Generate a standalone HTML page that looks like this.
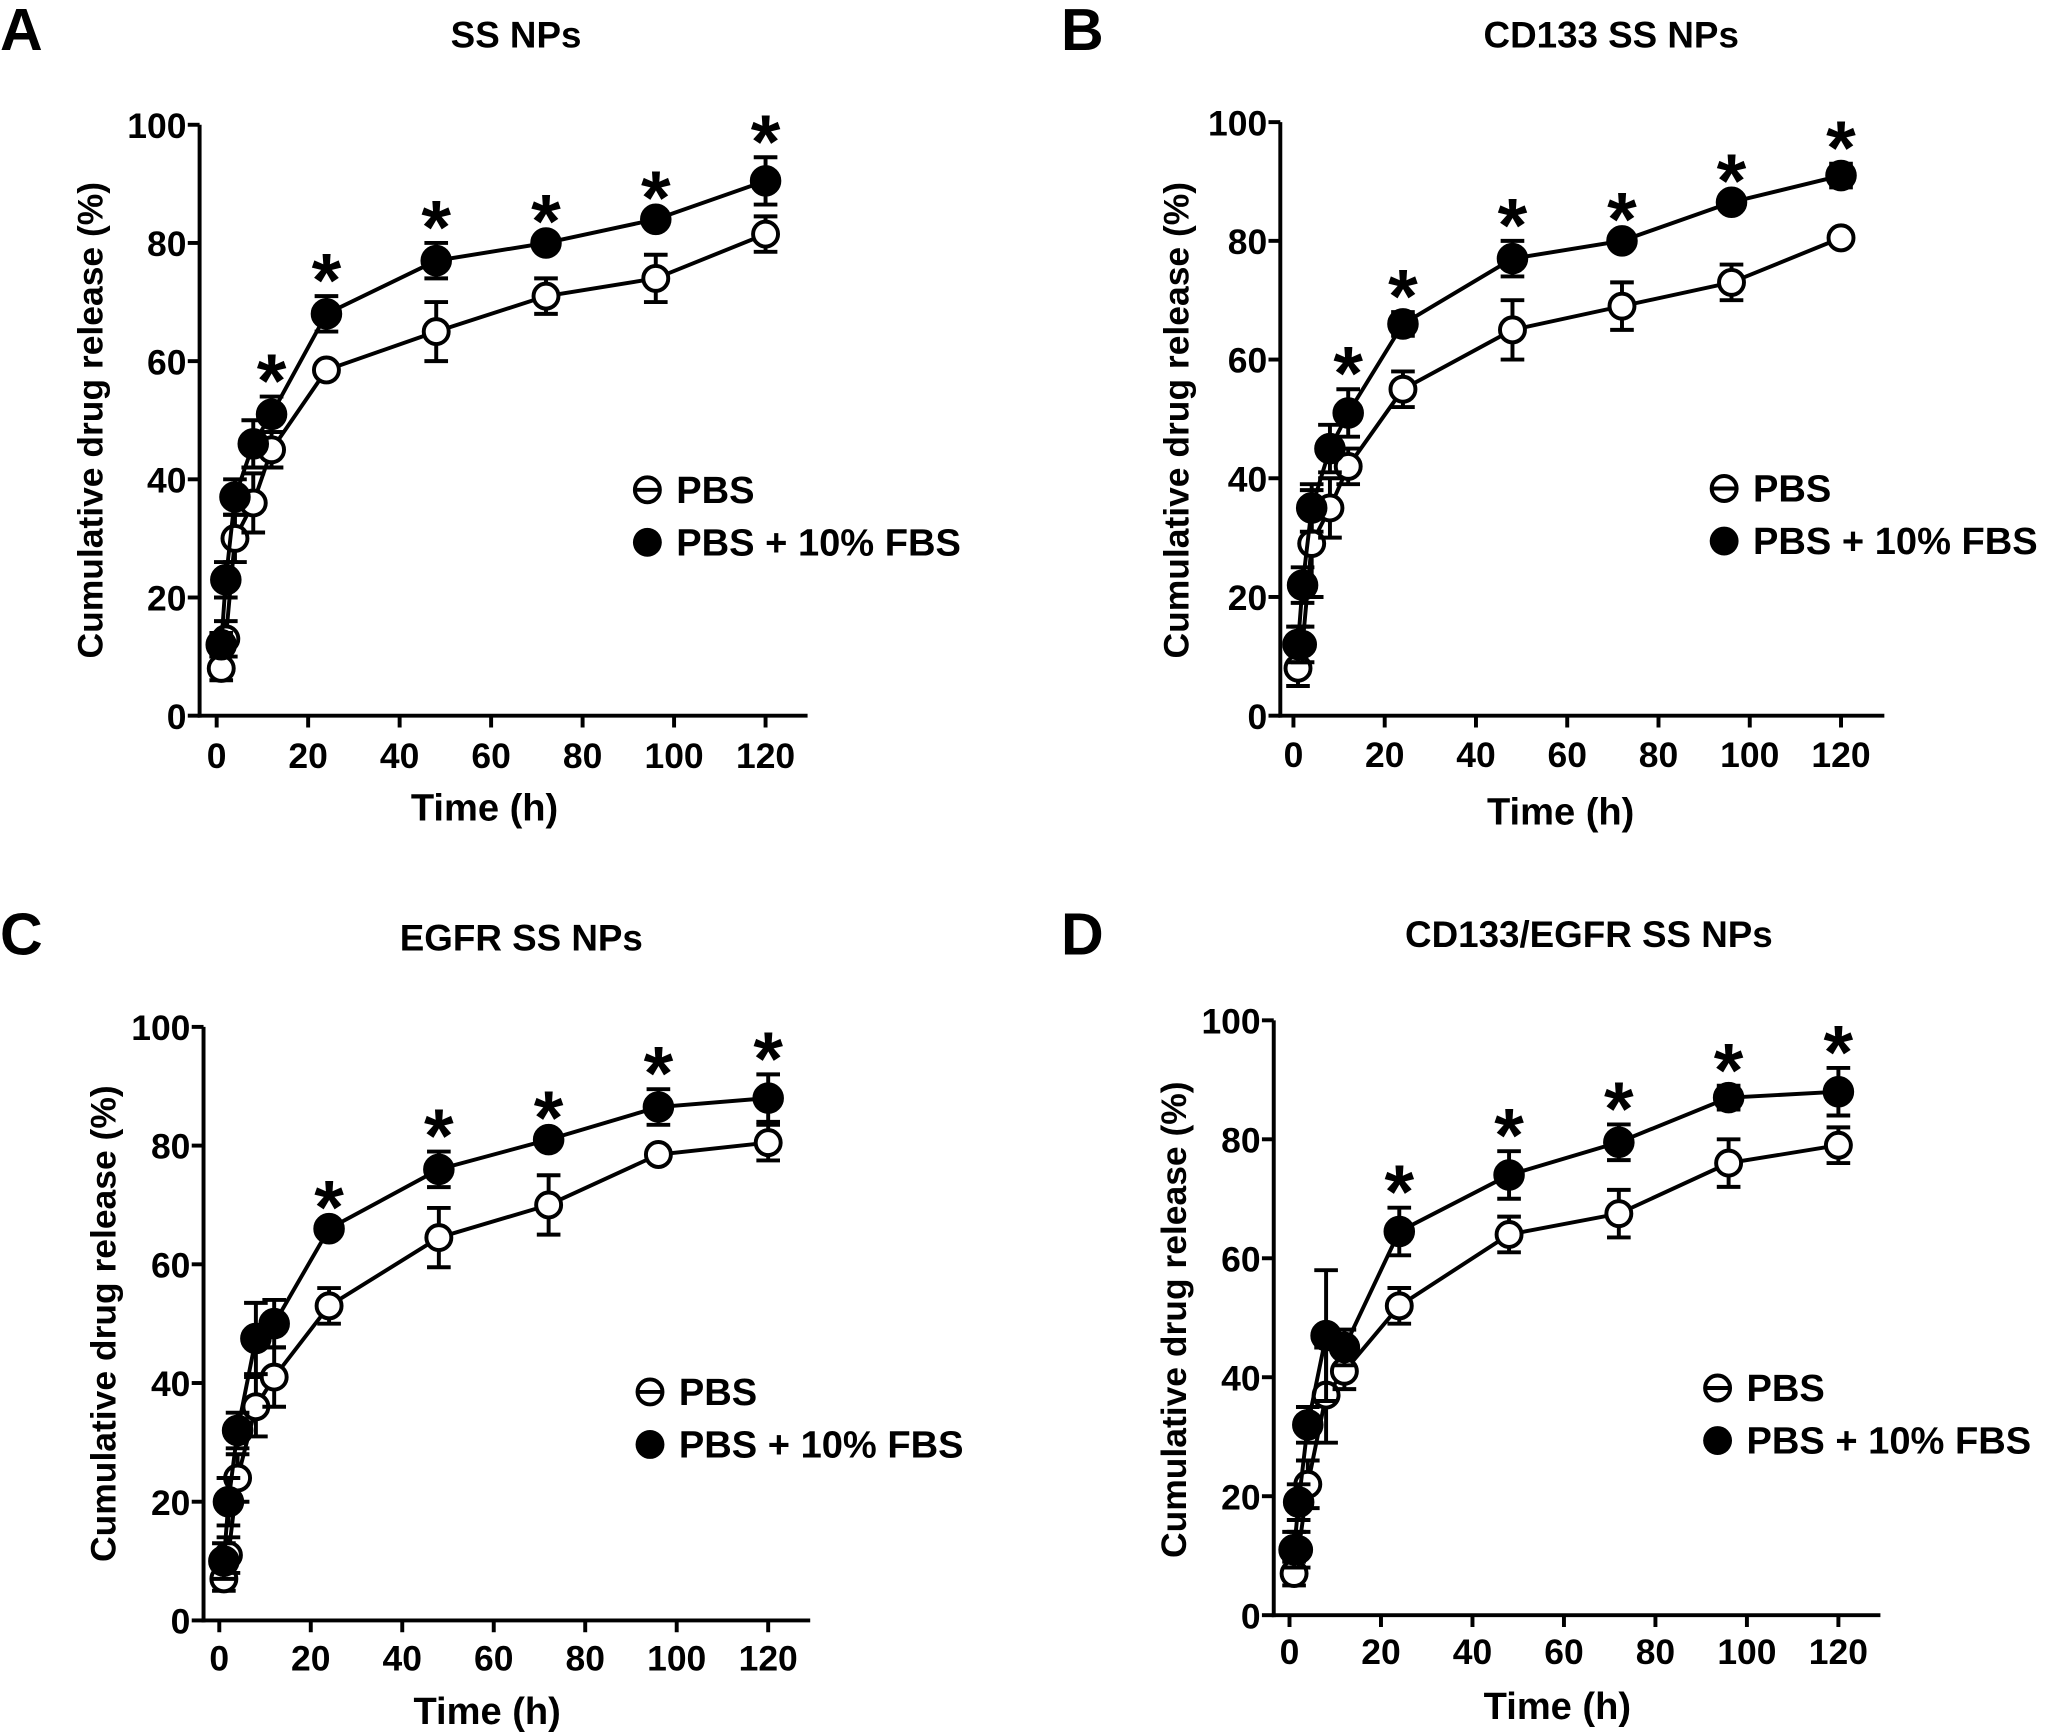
<!DOCTYPE html>
<html><head><meta charset="utf-8">
<style>
html,body{margin:0;padding:0;background:#fff;}
svg{display:block;font-family:"Liberation Sans",Arial,sans-serif;font-weight:bold;}
</style></head>
<body>
<svg id="fig" width="2059" height="1736" viewBox="0 0 1568 1322" xmlns="http://www.w3.org/2000/svg"></svg>
<script>
const times = [1,2,4,8,12,24,48,72,96,120];
const xTicks = [0,20,40,60,80,100,120];
const yTicks = [0,20,40,60,80,100];
const titles = ["SS NPs","CD133 SS NPs","EGFR SS NPs","CD133/EGFR SS NPs"];
const letters = ["A","B","C","D"];
const pbsA = [8,13,30,36,45,58.5,65,71,74,81.5];
const pbsErrA = [2,3,4,5,3,1,5,3,4,3];
const fbsA = [12,23,37,46,51,68,77,80,84,90.5];
const fbsErrA = [2,3,3,4,3,3,3,1,1,4];
const pbsB = [8,12,29,35,42,55,65,69,73,80.5];
const pbsErrB = [3,3,9,5,3,3,5,4,3,1];
const fbsB = [12,22,35,45,51,66,77,80,86.5,91];
const fbsErrB = [3,3,4,4,4,2,3,1,1,2];
const pbsC = [7,11,24,36,41,53,64.5,70,78.5,80.5];
const pbsErrC = [2,3,4,5,5,3,5,5,1,3];
const fbsC = [10,20,32,47.5,50,66,76,81,86.5,88];
const fbsErrC = [3,4,3,6,4,1,3,1,3,4];
const pbsD = [7,11,22,37,41,52,64,67.5,76,79];
const pbsErrD = [2,3,4,8,3,3,3,4,4,3];
const fbsD = [11,19,32,47,45,64.5,74,79.5,87,88];
const fbsErrD = [3,3,3,11,3,4,4,3,2,4];
const starsA = [12,24,48,72,96,120];
const starsB = [12,24,48,72,96,120];
const starsC = [24,48,72,96,120];
const starsD = [24,48,72,96,120];

const panels = [
 {x0:165,x1:583,y0:545,y1:95,ax:152,axEnd:615,tlY:575,ttY:615,ytX:68,ytY:320,tX:393,tY:35,lX:0,lY:38,legX:493,legY:373,pbs:pbsA,pe:pbsErrA,fbs:fbsA,fe:fbsErrA,stars:starsA},
 {x0:985,x1:1402,y0:545,y1:93,ax:975,axEnd:1435,tlY:574,ttY:618,ytX:895,ytY:320,tX:1227,tY:35,lX:808,lY:38,legX:1313,legY:372,pbs:pbsB,pe:pbsErrB,fbs:fbsB,fe:fbsErrB,stars:starsB},
 {x0:167,x1:585,y0:1234,y1:782,ax:155,axEnd:617,tlY:1262,ttY:1303,ytX:78,ytY:1008,tX:397,tY:723,lX:0,lY:727,legX:495,legY:1060,pbs:pbsC,pe:pbsErrC,fbs:fbsC,fe:fbsErrC,stars:starsC},
 {x0:982,x1:1400,y0:1230,y1:777,ax:970,axEnd:1432,tlY:1257,ttY:1299,ytX:893,ytY:1005,tX:1210,tY:720,lX:808,lY:727,legX:1308,legY:1057,pbs:pbsD,pe:pbsErrD,fbs:fbsD,fe:fbsErrD,stars:starsD}
];
const NS="http://www.w3.org/2000/svg";
const svg=document.getElementById('fig');
function mk(tag,attrs,parent,text){const e=document.createElementNS(NS,tag);for(const k in attrs)e.setAttribute(k,attrs[k]);if(text!==undefined)e.textContent=text;(parent||svg).appendChild(e);return e;}
panels.forEach((p,i)=>{
 const g=mk('g',{});
 
 
 const X=t=>p.x0+(p.x1-p.x0)*t/120;
 const Y=v=>p.y0+(p.y1-p.y0)*v/100;
 let e;
 e=mk('text',{x:p.lX,y:p.lY,'font-size':45},g,letters[i]);
 
 e=mk('text',{x:p.tX,y:p.tY+1,'font-size':28,'text-anchor':'middle'},g,titles[i]);
 
 e=mk('line',{x1:p.ax,y1:Y(100),x2:p.ax,y2:p.y0+1.5,stroke:'#000','stroke-width':3},g);
 
 e=mk('line',{x1:p.ax-1.5,y1:p.y0,x2:p.axEnd,y2:p.y0,stroke:'#000','stroke-width':3},g);
 
 yTicks.forEach(v=>{
  mk('line',{x1:p.ax-9,y1:Y(v),x2:p.ax,y2:Y(v),stroke:'#000','stroke-width':3},g);
  e=mk('text',{x:p.ax-10,y:Y(v)+10,'font-size':27,'text-anchor':'end'},g,v);
  
 });
 xTicks.forEach(v=>{
  mk('line',{x1:X(v),y1:p.y0,x2:X(v),y2:p.y0+9,stroke:'#000','stroke-width':3},g);
  e=mk('text',{x:X(v),y:p.tlY+10,'font-size':27,'text-anchor':'middle'},g,v);
  
 });
 e=mk('text',{x:(p.x0+p.x1)/2-5,y:p.ttY+10,'font-size':29,'text-anchor':'middle'},g,'Time (h)');
 
 e=mk('text',{x:0,y:0,'font-size':27,'text-anchor':'middle',transform:`translate(${p.ytX+10},${p.ytY}) rotate(-90)`},g,'Cumulative drug release  (%)');
 
 [[p.pbs,p.pe,false],[p.fbs,p.fe,true]].forEach(([vals,errs,filled])=>{
  const sg=mk('g',{},g);
  
  
  e=mk('polyline',{points:vals.map((v,k)=>X(times[k])+','+Y(v)).join(' '),fill:'none',stroke:'#000','stroke-width':3},sg);
  
  vals.forEach((v,k)=>{
   const cx=X(times[k]);
   const top=Y(v+errs[k]),bot=Y(v-errs[k]);
   e=mk('path',{d:`M${cx},${top}V${bot}M${cx-9},${top}H${cx+9}M${cx-9},${bot}H${cx+9}`,stroke:'#000','stroke-width':3,fill:'none'},sg);
   
   e=mk('circle',{cx:cx,cy:Y(v),r:filled?10.5:9.5,fill:filled?'#000':'#fff',stroke:'#000','stroke-width':3},sg);
   
  });
 });
 p.stars.forEach(t=>{
  const k=times.indexOf(t);
  const top=Y(p.fbs[k]+p.fe[k]);
  e=mk('text',{x:X(t),y:top+8,'font-size':58,'text-anchor':'middle'},g,'*');
  
 });
 const lg=mk('g',{},g);
 
 mk('circle',{cx:p.legX,cy:p.legY,r:9.5,fill:'#fff',stroke:'#000','stroke-width':3},lg);
 mk('line',{x1:p.legX-10,y1:p.legY,x2:p.legX+10,y2:p.legY,stroke:'#000','stroke-width':3},lg);
 e=mk('text',{x:p.legX+22,y:p.legY+10,'font-size':29},lg,'PBS');
 
 mk('circle',{cx:p.legX,cy:p.legY+40,r:11,fill:'#000'},lg);
 e=mk('text',{x:p.legX+22,y:p.legY+50,'font-size':29},lg,'PBS + 10% FBS');
 
});
</script>
</body></html>
